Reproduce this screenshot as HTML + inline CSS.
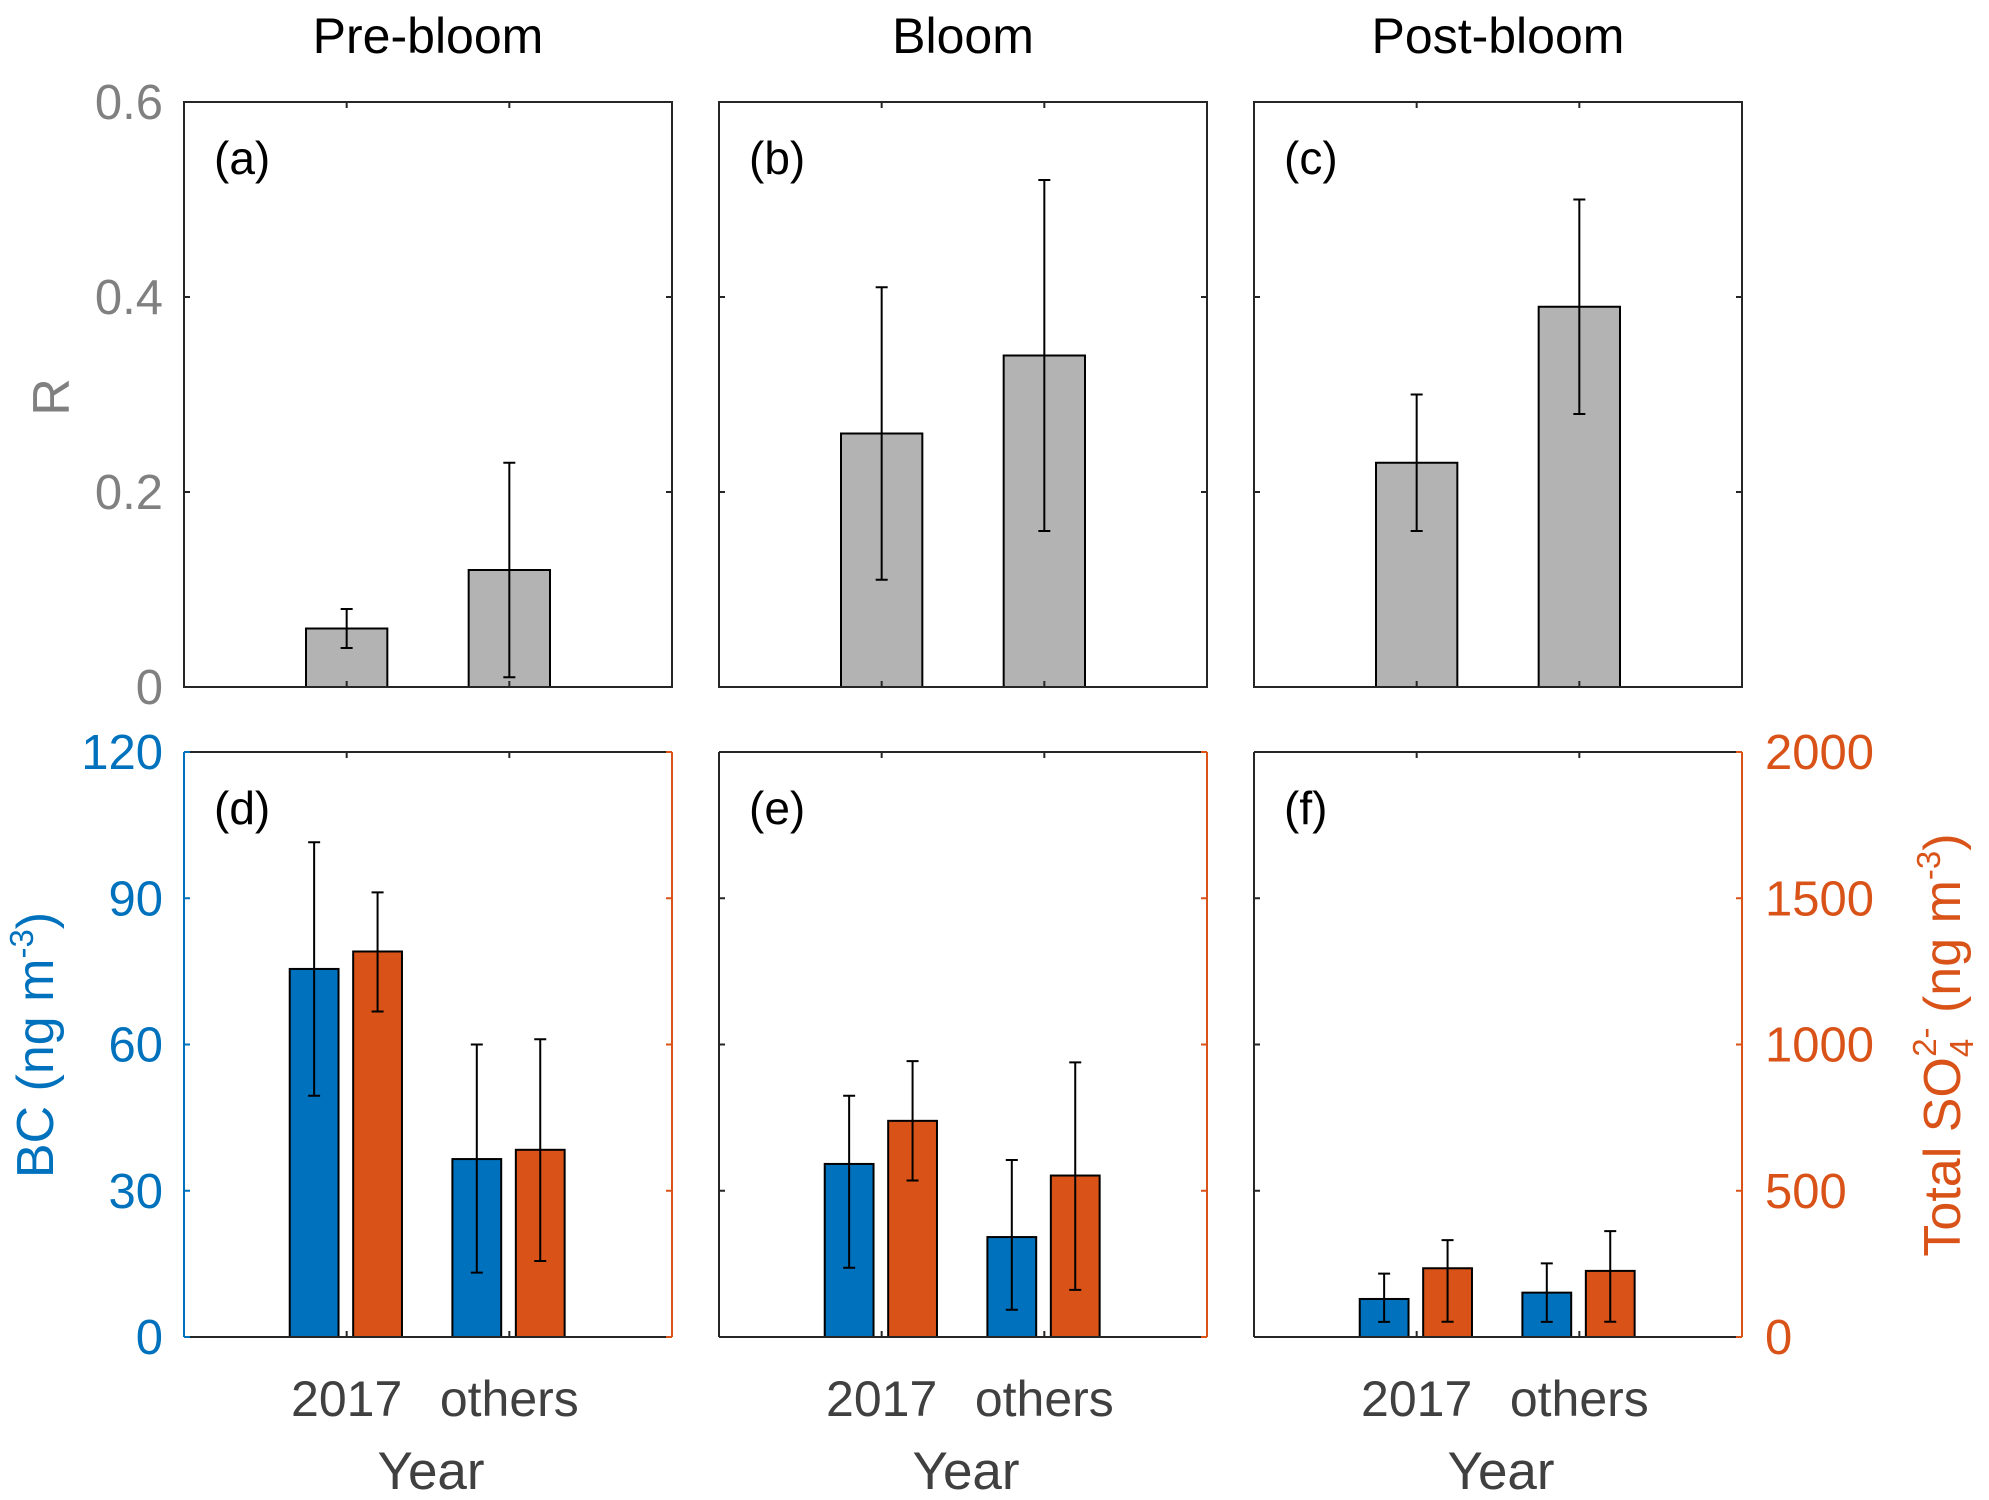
<!DOCTYPE html>
<html><head><meta charset="utf-8">
<style>
html,body{margin:0;padding:0;background:#fff;}
svg{display:block;font-family:"Liberation Sans",Arial,sans-serif;}
</style></head>
<body>
<svg id="chart" width="1989" height="1500" viewBox="0 0 1989 1500" xmlns="http://www.w3.org/2000/svg"></svg>
<script>
const categories = ["2017", "others"];
const panelTitles = ["Pre-bloom", "Bloom", "Post-bloom"];
const topLabels = ["(a)", "(b)", "(c)"];
const bottomLabels = ["(d)", "(e)", "(f)"];
// R values per panel [2017, others]
const rVals = [[0.06, 0.12], [0.26, 0.34], [0.23, 0.39]];
const rLow  = [[0.04, 0.01], [0.11, 0.16], [0.16, 0.28]];
const rHigh = [[0.08, 0.23], [0.41, 0.52], [0.30, 0.50]];
// BC (ng m-3)
const bcVals = [[75.5, 36.5], [35.5, 20.5], [7.8, 9.1]];
const bcLow  = [[49.5, 13.2], [14.2, 5.6], [3.1, 3.1]];
const bcHigh = [[101.5, 60], [49.5, 36.3], [13, 15.1]];
// Total SO4 (ng m-3)
const soVals = [[1318, 640], [739, 552], [235, 226]];
const soLow  = [[1113, 260], [535, 161], [52, 52]];
const soHigh = [[1520, 1018], [943, 939], [331, 362]];
const rTicks = [0, 0.2, 0.4, 0.6];
const rTickLabels = ["0", "0.2", "0.4", "0.6"];
const bcTicks = [0, 30, 60, 90, 120];
const bcTickLabels = ["0", "30", "60", "90", "120"];
const soTicks = [0, 500, 1000, 1500, 2000];
const soTickLabels = ["0", "500", "1000", "1500", "2000"];

const NS = "http://www.w3.org/2000/svg";
const svg = document.getElementById("chart");
const BLUE = "#0072BD", ORANGE = "#D95319", AX = "#262626";
const colX = [184, 719, 1254];
const W = 488;
const topY = [102, 687], botY = [752, 1337];

function mk(tag, attrs, parent) {
  const e = document.createElementNS(NS, tag);
  for (const k in attrs) e.setAttribute(k, attrs[k]);
  (parent || svg).appendChild(e);
  return e;
}
function txt(s, attrs, parent) { const t = mk("text", attrs, parent); t.textContent = s; return t; }

function xScale(col, v) { return colX[col] + (v / 3) * W; }
function yScale(range, max, v) { return range[1] - (v / max) * (range[1] - range[0]); }

function errBar(g, x, lo, hi) {
  const e = mk("path", {d: `M${x},${lo}V${hi}M${x-6},${lo}H${x+6}M${x-6},${hi}H${x+6}`, stroke: "#000", "stroke-width": 2, fill: "none"}, g);
  
  
}

for (let c = 0; c < 3; c++) {
  const g = mk("g", {});
  
  
  const x0 = colX[c], x1 = colX[c] + W;
  const ty = v => yScale(topY, 0.6, v);
  const t = txt(panelTitles[c], {x: (x0 + x1) / 2, y: 53, "font-size": 50, "text-anchor": "middle", fill: "#000"}, g);
  
  
  for (let i = 0; i < 2; i++) {
    const cx = xScale(c, i + 1);
    const b = mk("rect", {x: cx - W / 12, y: ty(rVals[c][i]), width: W / 6, height: ty(0) - ty(rVals[c][i]), fill: "#b3b3b3", stroke: "#000", "stroke-width": 2}, g);
    
    
    errBar(g, cx, ty(rLow[c][i]), ty(rHigh[c][i]));
  }
  const frame = mk("rect", {x: x0, y: topY[0], width: W, height: topY[1] - topY[0], fill: "none", stroke: AX, "stroke-width": 2}, g);
  
  
  for (let k = 0; k < rTicks.length; k++) {
    const y = ty(rTicks[k]);
    mk("path", {d: `M${x0},${y}h6M${x1},${y}h-6`, stroke: AX, "stroke-width": 2}, g);
    if (c === 0) {
      const tl = txt(rTickLabels[k], {x: 163, y: y + 17, "font-size": 49, "text-anchor": "end", fill: "#808080"}, g);
      
      
    }
  }
  for (let i = 0; i < 2; i++) { const cx = xScale(c, i + 1); mk("path", {d: `M${cx},${topY[0]}v6M${cx},${topY[1]}v-6`, stroke: AX, "stroke-width": 2}, g); }
  const pl = txt(topLabels[c], {x: x0 + 30, y: topY[0] + 72, "font-size": 46, fill: "#000"}, g);
  
  

  const h = mk("g", {});
  
  
  const by = v => yScale(botY, 120, v);
  const sy = v => yScale(botY, 2000, v);
  const bw = W / 3 * 0.3;
  for (let i = 0; i < 2; i++) {
    const cx = xScale(c, i + 1);
    const xb = cx - W / 3 * 0.2, xo = cx + W / 3 * 0.19;
    const b1 = mk("rect", {x: xb - bw / 2, y: by(bcVals[c][i]), width: bw, height: by(0) - by(bcVals[c][i]), fill: BLUE, stroke: "#000", "stroke-width": 2}, h);
    
    
    const b2 = mk("rect", {x: xo - bw / 2, y: sy(soVals[c][i]), width: bw, height: sy(0) - sy(soVals[c][i]), fill: ORANGE, stroke: "#000", "stroke-width": 2}, h);
    
    
    errBar(h, xb, by(bcLow[c][i]), by(bcHigh[c][i]));
    errBar(h, xo, sy(soLow[c][i]), sy(soHigh[c][i]));
    mk("path", {d: `M${cx},${botY[0]}v6M${cx},${botY[1]}v-6`, stroke: AX, "stroke-width": 2}, h);
    const xl = txt(categories[i], {x: cx, y: 1416, "font-size": 50, "text-anchor": "middle", fill: "#404040"}, h);
    
    
  }
  mk("path", {d: `M${x0},${botY[0]}H${x1}M${x0},${botY[1]}H${x1}`, stroke: AX, "stroke-width": 2}, h);
  const lc = c === 0 ? BLUE : AX;
  mk("path", {d: `M${x0},${botY[0]}V${botY[1]}`, stroke: lc, "stroke-width": 2}, h);
  mk("path", {d: `M${x1},${botY[0]}V${botY[1]}`, stroke: ORANGE, "stroke-width": 2}, h);
  for (let k = 0; k < bcTicks.length; k++) {
    const y = by(bcTicks[k]);
    mk("path", {d: `M${x0},${y}h6`, stroke: lc, "stroke-width": 2}, h);
    if (c === 0) {
      const tl = txt(bcTickLabels[k], {x: 163, y: y + 17, "font-size": 49, "text-anchor": "end", fill: BLUE}, h);
      
      
    }
  }
  for (let k = 0; k < soTicks.length; k++) {
    const y = sy(soTicks[k]);
    mk("path", {d: `M${x1},${y}h-6`, stroke: ORANGE, "stroke-width": 2}, h);
    if (c === 2) {
      const tl = txt(soTickLabels[k], {x: 1765, y: y + 17, "font-size": 49, fill: ORANGE}, h);
      
      
    }
  }
  const pl2 = txt(bottomLabels[c], {x: x0 + 30, y: botY[0] + 72, "font-size": 46, fill: "#000"}, h);
  
  
  const yr = txt("Year", {x: (x0 + x1) / 2 + 3, y: 1489, "font-size": 53, "text-anchor": "middle", fill: "#404040"}, h);
  
  
}
const rl = txt("R", {x: 0, y: 0, "font-size": 52, "text-anchor": "middle", fill: "#808080", transform: "translate(69,397) rotate(-90)"});


const bl = txt("", {x: 0, y: 0, "font-size": 52, "text-anchor": "middle", fill: BLUE, transform: "translate(53,1045) rotate(-90)"});
bl.innerHTML = 'BC (ng m<tspan font-size="33" dy="-20">-3</tspan><tspan dy="20">)</tspan>';


const sl = txt("", {x: 0, y: 0, "font-size": 52, "text-anchor": "middle", fill: ORANGE, transform: "translate(1960,1045) rotate(-90)"});
sl.innerHTML = 'Total SO<tspan font-size="33" dy="13">4</tspan><tspan font-size="33" dx="-18" dy="-37">2-</tspan><tspan dy="24"> (ng m</tspan><tspan font-size="33" dy="-20">-3</tspan><tspan dy="20">)</tspan>';


</script>
</body></html>
